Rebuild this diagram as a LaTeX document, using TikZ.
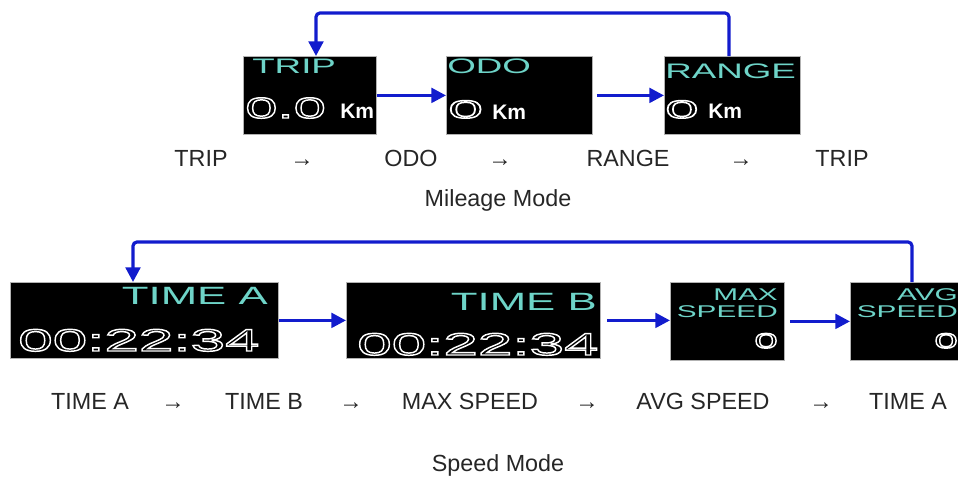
\documentclass[tikz,border=0pt]{standalone}
\usepackage{fontspec}
\setmainfont{Liberation Sans}
\newfontfamily\lcdfont[FakeStretch=1.75]{Liberation Sans}
\newfontfamily\digitfont[FakeStretch=2.0]{Liberation Sans}
\usetikzlibrary{arrows.meta}
\definecolor{lcdcyan}{RGB}{110,212,200}
\definecolor{loopblue}{RGB}{18,28,205}
\newcommand{\hollow}[1]{\special{pdf:literal direct 1 Tr 1.1 w}#1\special{pdf:literal direct 0 Tr}}

\begin{document}
\begin{tikzpicture}[x=0.75pt, y=-0.75pt,
    lcd/.style={draw=gray!60, line width=0.6pt, fill=black, anchor=north west, inner sep=0pt, minimum height=58.5pt},
    lcdlbl/.style={text=lcdcyan, inner sep=0pt, font=\lcdfont\fontsize{#1}{#1}\selectfont},
    lcdnum/.style={text=white, inner sep=0pt, font=\digitfont\fontsize{#1}{#1}\selectfont},
    unit/.style={text=white, inner sep=0pt, anchor=base west, font=\bfseries\fontsize{15.75}{16}\selectfont},
    caption/.style={text=black!85, inner sep=0pt, anchor=base, font=\fontsize{17.5}{18}\selectfont},
    link/.style={draw=loopblue, line width=2.4pt, -{Triangle[length=11pt, width=11pt]}}]
    \useasboundingbox (0,0) rectangle (958,479);

    \node[lcd, minimum width=99.75pt] (trip) at (243,56) {};
    \node[lcd, minimum width=109.5pt] (odo) at (446,56) {};
    \node[lcd, minimum width=102pt] (range) at (664,56) {};
    \node[lcd, minimum width=201pt, minimum height=57pt] (timea) at (10,282) {};
    \node[lcd, minimum width=190.5pt, minimum height=57pt] (timeb) at (346,282) {};
    \node[lcd, minimum width=85.5pt] (maxsp) at (670,282) {};
    \node[lcd, minimum width=85.5pt] (avgsp) at (850,282) {};

    \node[lcdlbl=15.75, anchor=base west] (triplbl) at (252,73) {TRIP};
    \node[lcdnum=21.75, anchor=base west] (tripval) at (245,118) {\hollow{0.0}};
    \node[unit] (tripkm) at (340,118) {Km};
    \node[lcdlbl=15.75, anchor=base west] (odolbl) at (447,73) {ODO};
    \node[lcdnum=18.75, anchor=base west] (odoval) at (448,118) {\scalebox{1.25}[1]{\hollow{0}}};
    \node[unit] (odokm) at (492,119) {Km};
    \node[lcdlbl=15.75, anchor=base west] (rangelbl) at (665,78) {RANGE};
    \node[lcdnum=18.75, anchor=base west] (rangeval) at (665,118) {\scalebox{1.2}[1]{\hollow{0}}};
    \node[unit] (rangekm) at (708,118) {Km};
    \node[lcdlbl=18.75, anchor=base east] (timealbl) at (268,304) {TIME A};
    \node[lcdnum=23.25, anchor=base west] (timeaval) at (18,351) {\hollow{00:22:34}};
    \node[lcdlbl=18.75, anchor=base east] (timeblbl) at (597,310) {TIME B};
    \node[lcdnum=23.25, anchor=base west] (timebval) at (357,355) {\hollow{00:22:34}};
    \node[lcdlbl=12.75, anchor=base east] (maxlbl) at (778,300) {MAX};
    \node[lcdlbl=12.75, anchor=base east] (maxlbl2) at (778,317) {SPEED};
    \node[lcdnum=15.75, anchor=base east] (maxval) at (778,348) {\hollow{0}};
    \node[lcdlbl=12.75, anchor=base east] (avglbl) at (958,300) {AVG};
    \node[lcdlbl=12.75, anchor=base east] (avglbl2) at (958,317) {SPEED};
    \node[lcdnum=15.75, anchor=base east] (avgval) at (958,348) {\hollow{0}};

    \coordinate (tripin) at (316,56);
    \coordinate (rangeout) at (729,56);
    \coordinate (timeain) at (133,282);
    \coordinate (avgout) at (912,282);
    \draw[link] (trip.east) -- (odo.west);
    \draw[link, shorten <=3pt] (odo.east) -- (range.west);
    \draw[link, rounded corners=3pt] (rangeout) -- ++(0,-43) -| (tripin);
    \draw[link] (timea.east) -- (timeb.west);
    \draw[link, shorten <=5pt] (timeb.east) -- (timeb.east -| maxsp.west);
    \draw[link, shorten <=4pt] (maxsp.east) -- (avgsp.west);
    \draw[link, rounded corners=3pt] (avgout) -- ++(0,-40) -| (timeain);

    \node[caption] (mtrip) at (201,166.5) {TRIP};
    \node[caption] (marr1) at (302,166.5) {→};
    \node[caption] (modo) at (411,166.5) {ODO};
    \node[caption] (marr2) at (500,166.5) {→};
    \node[caption] (mrange) at (628,166.5) {RANGE};
    \node[caption] (marr3) at (741,166.5) {→};
    \node[caption] (mtrip2) at (842,166.5) {TRIP};
    \node[caption] (mileage) at (498,206.5) {Mileage Mode};

    \node[caption] (stimea) at (90,409.5) {TIME A};
    \node[caption] (sarr1) at (173,409.5) {→};
    \node[caption] (stimeb) at (264,409.5) {TIME B};
    \node[caption] (sarr2) at (351,409.5) {→};
    \node[caption] (smax) at (470,409.5) {MAX SPEED};
    \node[caption] (sarr3) at (587,409.5) {→};
    \node[caption] (savg) at (703,409.5) {AVG SPEED};
    \node[caption] (sarr4) at (821,409.5) {→};
    \node[caption] (stimea2) at (908,409.5) {TIME A};
    \node[caption] (speed) at (498,471.5) {Speed Mode};
\end{tikzpicture}
\end{document}
